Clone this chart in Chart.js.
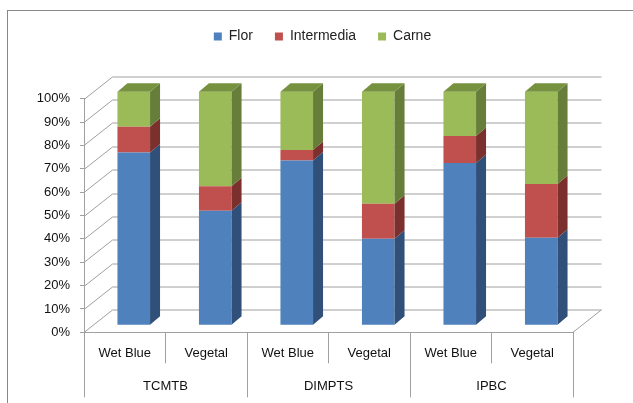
<!DOCTYPE html>
<html>
<head>
<meta charset="utf-8">
<script src="https://cdn.jsdelivr.net/npm/chart.js@4/dist/chart.umd.min.js"></script>
<style>
  html, body { margin: 0; padding: 0; background: #fff; }
  #chart { display: block; }
</style>
</head>
<body>
<canvas id="chart" width="633" height="403"></canvas>
<script>
// categories: treatment / leather type
const treatments = ['TCMTB', 'DIMPTS', 'IPBC'];
const leatherTypes = ['Wet Blue', 'Vegetal', 'Wet Blue', 'Vegetal', 'Wet Blue', 'Vegetal'];

// share of each layer, in %
const florValues = [74, 49, 70.5, 37, 69.5, 37.5];
const intermediaValues = [11, 10.5, 4.5, 15, 11.5, 23];
const carneValues = [15, 40.5, 25, 48, 19, 39.5];

const seriesNames = ['Flor', 'Intermedia', 'Carne'];
const frontColors = ['#4f81bd', '#c0504d', '#9bbb59'];
const sideColors = ['#30507a', '#7b302e', '#667e39'];
const topColors = ['#40699a', '#9a3d3b', '#77923f'];

const gridColor = '#a0a0a0';
const labelFont = { family: 'Liberation Sans', size: 13 };

// fake 3D: depth of the walls and of the bars
const WALL_DX = 28.5, WALL_DY = -22.5;
const SHIFT_X = 9, SHIFT_Y = -7;
const BAR_DX = 10, BAR_DY = -8.5;

const frame3d = {
  id: 'frame3d',
  beforeDraw(chart) {
    const ctx = chart.ctx;
    ctx.save();
    ctx.fillStyle = '#fff';
    ctx.fillRect(0, 0, chart.width, chart.height);
    ctx.strokeStyle = '#888';
    ctx.lineWidth = 1;
    ctx.strokeRect(7.5, 10.5, chart.width + 20, chart.height + 20);
    ctx.restore();
  },
  beforeDatasetsDraw(chart) {
    const ctx = chart.ctx;
    const { left, right, bottom } = chart.chartArea;
    const y = chart.scales.y;
    ctx.save();
    ctx.strokeStyle = gridColor;
    ctx.lineWidth = 1;
    ctx.beginPath();
    y.ticks.forEach(t => {
      const py = Math.round(y.getPixelForValue(t.value)) + 0.5;
      ctx.moveTo(left, py);
      ctx.lineTo(left + WALL_DX, py + WALL_DY);
      ctx.lineTo(right + WALL_DX, py + WALL_DY);
    });
    ctx.moveTo(right, bottom);
    ctx.lineTo(right + WALL_DX, bottom + WALL_DY);
    ctx.stroke();
    ctx.restore();

    ctx.save();
    ctx.translate(SHIFT_X, SHIFT_Y);
  },
  afterDatasetsDraw(chart) {
    const ctx = chart.ctx;
    const last = chart.data.datasets.length - 1;
    chart.data.datasets.forEach((ds, i) => {
      const meta = chart.getDatasetMeta(i);
      meta.data.forEach(bar => {
        const { x, y, base, width } = bar.getProps(['x', 'y', 'base', 'width'], true);
        const l = x - width / 2, r = x + width / 2;
        const top = Math.min(y, base), bot = Math.max(y, base);
        ctx.fillStyle = sideColors[i];
        ctx.beginPath();
        ctx.moveTo(r, top);
        ctx.lineTo(r + BAR_DX, top + BAR_DY);
        ctx.lineTo(r + BAR_DX, bot + BAR_DY);
        ctx.lineTo(r, bot);
        ctx.closePath();
        ctx.fill();
        if (i === last) {
          ctx.fillStyle = topColors[i];
          ctx.beginPath();
          ctx.moveTo(l, top);
          ctx.lineTo(l + BAR_DX, top + BAR_DY);
          ctx.lineTo(r + BAR_DX, top + BAR_DY);
          ctx.lineTo(r, top);
          ctx.closePath();
          ctx.fill();
        }
      });
    });
    ctx.restore();
  }
};

const seriesData = [florValues, intermediaValues, carneValues];

new Chart(document.getElementById('chart'), {
  type: 'bar',
  data: {
    labels: leatherTypes,
    datasets: seriesNames.map((name, i) => ({
      label: name,
      data: seriesData[i],
      backgroundColor: frontColors[i],
      borderWidth: 0,
      barPercentage: 0.8,
      categoryPercentage: 0.5,
      clip: false
    }))
  },
  options: {
    responsive: false,
    animation: false,
    devicePixelRatio: 1,
    layout: { padding: { left: 30, right: 18, top: 7.5, bottom: 0 } },
    plugins: {
      tooltip: { enabled: false },
      legend: {
        position: 'top',
        labels: {
          boxWidth: 8,
          boxHeight: 8,
          padding: 22,
          color: '#222',
          font: { family: 'Liberation Sans', size: 14 }
        }
      },
      title: {
        display: true,
        text: '',
        weight: 500,
        font: { size: 10, lineHeight: 1 },
        padding: { top: 0, bottom: 35.2 }
      }
    },
    scales: {
      x: {
        stacked: true,
        weight: 0,
        border: { display: true, color: gridColor },
        grid: { drawOnChartArea: false, drawTicks: true, tickLength: 31, offset: true, color: gridColor },
        ticks: { padding: -18, color: '#111', font: labelFont, autoSkip: false, maxRotation: 0 },
        afterFit: s => { s.height = 31; }
      },
      x2: {
        type: 'category',
        position: 'bottom',
        labels: treatments,
        offset: true,
        weight: 1,
        border: { display: false },
        grid: { drawOnChartArea: false, drawTicks: true, tickLength: 34, offset: true, color: gridColor },
        ticks: { padding: -18.6, color: '#111', font: labelFont, autoSkip: false, maxRotation: 0 },
        afterFit: s => { s.height = 39.7; }
      },
      y: {
        stacked: true,
        min: 0,
        max: 100,
        border: { display: true, color: gridColor },
        grid: { drawOnChartArea: false, drawTicks: true, tickLength: 4, color: gridColor },
        ticks: {
          stepSize: 10,
          padding: 10,
          color: '#111',
          font: labelFont,
          callback: v => v + '%'
        },
        afterFit: s => { s.width = 54; }
      },
      // empty axis that only keeps room on the right for the 3D depth
      depth: {
        type: 'linear',
        position: 'right',
        display: true,
        border: { display: false },
        grid: { display: false },
        ticks: { display: false },
        afterFit: s => { s.width = 42; }
      }
    }
  },
  plugins: [frame3d]
});
</script>
</body>
</html>
